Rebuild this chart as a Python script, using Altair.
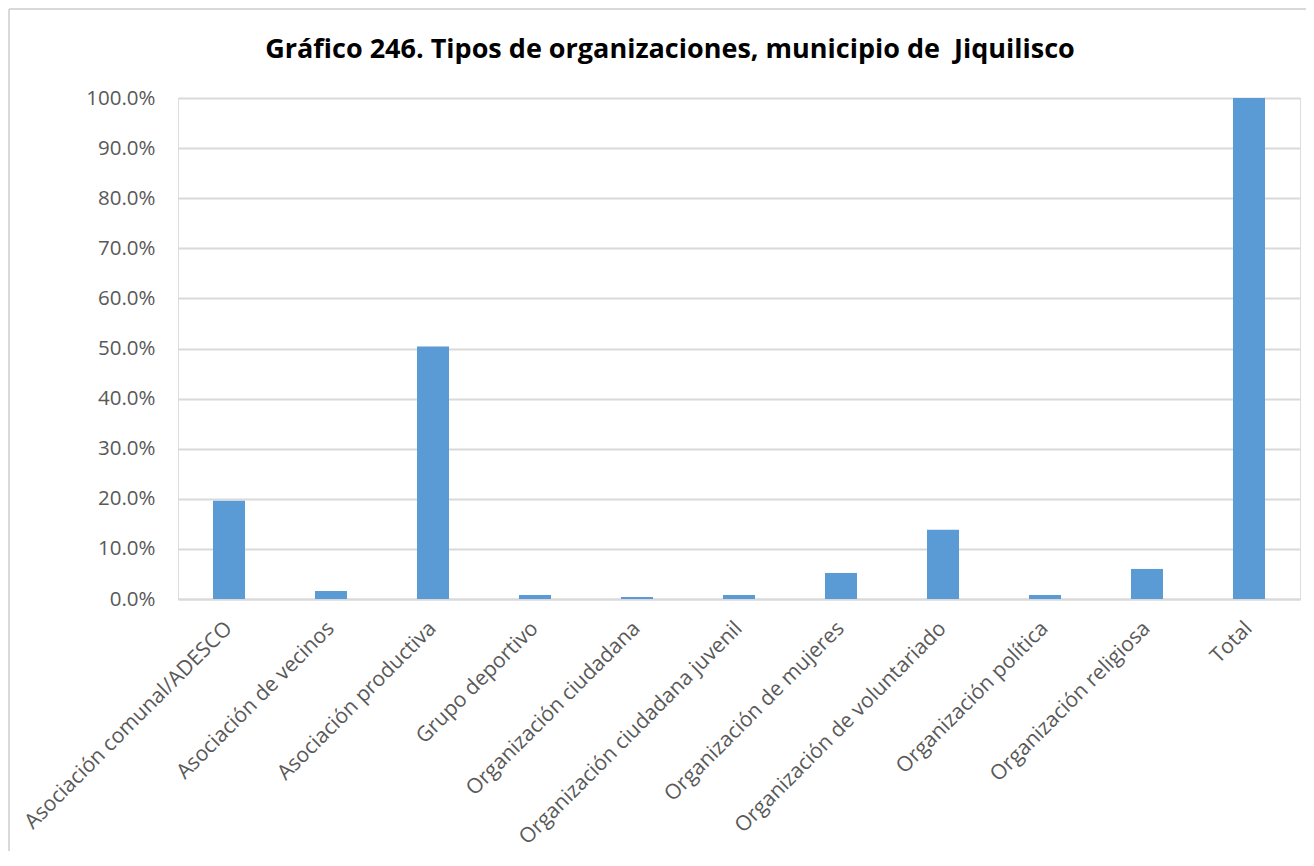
import altair as alt
import pandas as pd

title_text = "Gráfico 246. Tipos de organizaciones, municipio de \u00a0Jiquilisco"
categories = [
    "Asociación comunal/ADESCO",
    "Asociación de vecinos",
    "Asociación productiva",
    "Grupo deportivo",
    "Organización ciudadana",
    "Organización ciudadana juvenil",
    "Organización de mujeres",
    "Organización de voluntariado",
    "Organización política",
    "Organización religiosa",
    "Total",
]
values = [0.196, 0.016, 0.504, 0.008, 0.004, 0.008, 0.052, 0.138, 0.008, 0.060, 1.0]
y_ticks = [0.0, 0.1, 0.2, 0.3, 0.4, 0.5, 0.6, 0.7, 0.8, 0.9, 1.0]

df = pd.DataFrame({"cat": categories, "val": values})

FONT = "Open Sans"
GRAY_TXT = "#595959"
GRID = "#D9D9D9"

one = pd.DataFrame({"t": [title_text]})
frame_left = alt.Chart(one).mark_rule(color=GRID, strokeWidth=2).encode(
    x=alt.value(-169), y=alt.value(-89), y2=alt.value(760),
)
frame_top = alt.Chart(one).mark_rule(color=GRID, strokeWidth=2).encode(
    x=alt.value(-169), x2=alt.value(1140), y=alt.value(-89),
)
title = alt.Chart(one).mark_text(
    font=FONT, fontSize=27, fontWeight="bold", color="#000000",
    align="center", baseline="alphabetic",
).encode(text="t:N", x=alt.value(492), y=alt.value(-40))

bars = alt.Chart(df).mark_bar(color="#5B9BD5", size=32).encode(
    x=alt.X(
        "cat:N",
        sort=categories,
        title=None,
        scale=alt.Scale(paddingInner=0, paddingOuter=0),
        axis=alt.Axis(
            labelAngle=-45,
            labelAlign="right",
            labelBaseline="middle",
            labelPadding=26,
            labelFont=FONT,
            labelFontSize=21,
            labelColor=GRAY_TXT,
            labelLimit=400,
            ticks=False,
            domain=True,
            domainColor=GRID,
            domainWidth=2,
            grid=False,
        ),
    ),
    y=alt.Y(
        "val:Q",
        title=None,
        scale=alt.Scale(domain=[0, 1], nice=False),
        axis=alt.Axis(
            values=y_ticks,
            format=".1%",
            labelFont=FONT,
            labelFontSize=20.5,
            labelColor=GRAY_TXT,
            labelPadding=23,
            ticks=False,
            domain=False,
            grid=True,
            gridColor=GRID,
            gridWidth=2,
        ),
    ),
)

chart = alt.layer(frame_left, frame_top, title, bars).properties(
    width=1122,
    height=501,
    autosize=alt.AutoSizeParams(type="none"),
    padding={"left": 170, "top": 90, "right": 6, "bottom": 252},
).configure_view(stroke=None).configure(background="white")

chart.save("out.html", embed_options={"renderer": "svg", "actions": False})
